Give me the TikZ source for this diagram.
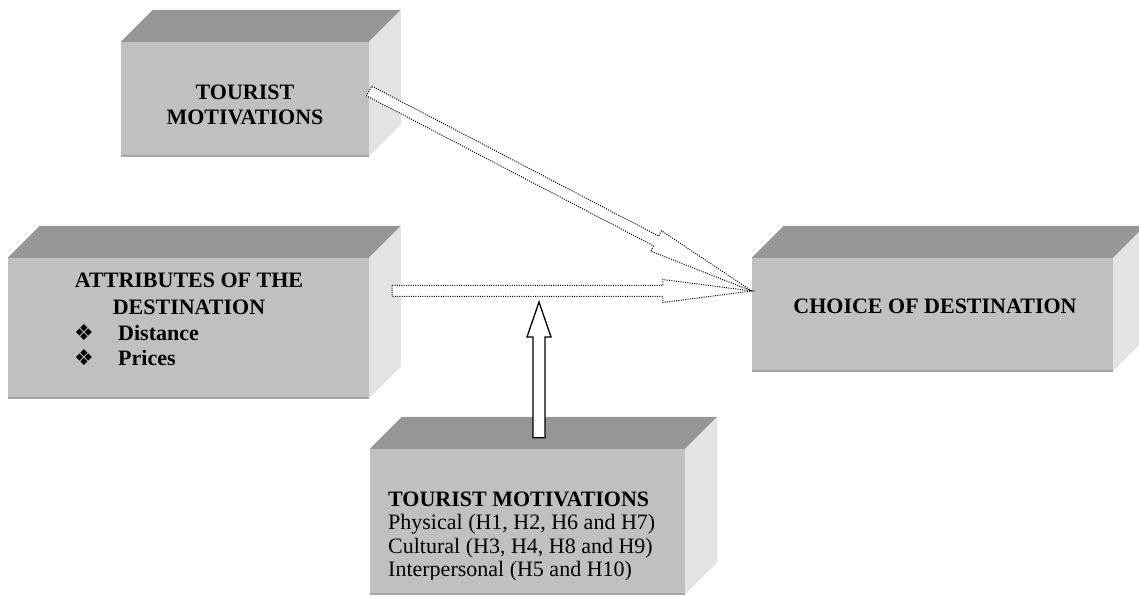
\documentclass[tikz,border=0pt]{standalone}
\usepackage{fontspec}
\setmainfont{Liberation Serif}
\newfontfamily\symfont{DejaVu Sans}
\usetikzlibrary{calc}
\definecolor{FrontGrey}{HTML}{C0C0C0}
\definecolor{TopGrey}{HTML}{969696}
\definecolor{SideGrey}{HTML}{E3E3E3}
\definecolor{EdgeGrey}{HTML}{A6A6A6}

% top and side faces of a front node
\newcommand{\boxfaces}[1]{%
	\fill[TopGrey] (#1.north west) -- ++(32,32) -- ([shift={(32,32)}]#1.north east) -- (#1.north east) -- cycle;
	\fill[SideGrey] (#1.north east) -- ++(32,32) -- ([shift={(32,32)}]#1.south east) -- (#1.south east) -- cycle;
	\draw[EdgeGrey, line width=1.5pt] (#1.south west) -- (#1.south east);
}

% hollow block arrow: style, tail, tip, half shaft, half head, head length
\newcommand{\blockarrow}[6]{%
	\coordinate (ba) at ($(#3)!#6!(#2)$);
	\draw[#1] ($(#2)!#4!90:(#3)$) -- ($(ba)!#4!90:(#3)$) -- ($(ba)!#5!90:(#3)$)
	-- (#3) -- ($(ba)!#5!-90:(#3)$) -- ($(ba)!#4!-90:(#3)$) -- ($(#2)!#4!-90:(#3)$) -- cycle;
}

\newcommand{\bul}{{\symfont\fontsize{22}{22}\selectfont\raisebox{0pt}{❖}}}

\begin{document}
\begin{tikzpicture}[
				x=1pt, y=1pt,
				front/.style={
					fill=FrontGrey,
					inner sep=0pt,
					draw=none
				},
				label/.style={
					inner sep=0pt,
					font=\fontsize{22}{25}\selectfont\bfseries,
					align=center,
					anchor=base
				},
				dotarrow/.style={
					draw=black,
					fill=white,
					line width=1pt,
					dash pattern=on 1pt off 1.3pt
				},
				solidarrow/.style={
					draw=black,
					fill=white,
					line width=1.3pt
				}
				]
				
				\useasboundingbox (0,0) rectangle (1139,596);
				
				% boxes
				\node[front, minimum width=248pt, minimum height=114pt] (motiv) at (245,497) {};
				\boxfaces{motiv}
				
				\node[front, minimum width=361pt, minimum height=140pt] (attr) at (188.5,268) {};
				\boxfaces{attr}
				
				\node[front, minimum width=361pt, minimum height=113pt] (choice) at (932.5,281.5) {};
				\boxfaces{choice}
				
				\node[front, minimum width=315pt, minimum height=145pt] (motivh) at (527.5,74.5) {};
				\boxfaces{motivh}
				
				% texts (base = last line)
				\node[label] (motivT) at (245,471) {TOURIST\\MOTIVATIONS};
				
				\node[label, font=\fontsize{22}{27}\selectfont\bfseries] (attrT) at (189,281) {ATTRIBUTES OF THE\\DESTINATION};
				
				\node[label, anchor=base west, align=left] (attrL) at (74,230) {%
					\makebox[44pt][l]{\bul}Distance\\
					\makebox[44pt][l]{\bul}Prices};
				
				\node[label] (choiceT) at (935,282) {CHOICE OF DESTINATION};
				
				\begin{scope}
					\clip ([yshift=15pt]motivh.south west) rectangle (motivh.north east);
					\node[label, anchor=base west, align=left, font=\fontsize{22}{23.5}\selectfont] (motivhT) at (388,19) {%
						\textbf{TOURIST MOTIVATIONS}\\
						Physical (H1, H2, H6 and H7)\\
						Cultural (H3, H4, H8 and H9)\\
						Interpersonal (H5 and H10)};
				\end{scope}
				
				% arrows
				\coordinate (tip) at ([yshift=23.5pt]choice.west);
				\coordinate (t1) at ([yshift=8pt]motiv.east);
				\coordinate (t2) at ([xshift=23pt,yshift=37pt]attr.east);
				\coordinate (t3) at ([xshift=11.5pt,yshift=11pt]motivh.north);
				\coordinate (mod) at (539,294);
				
				\blockarrow{dotarrow}{t1}{tip}{5.5pt}{11.5pt}{108pt}
				\blockarrow{dotarrow}{t2}{tip}{5.5pt}{11.5pt}{89pt}
				\blockarrow{solidarrow}{t3}{mod}{6pt}{12pt}{35pt}
				
			\end{tikzpicture}
\end{document}
